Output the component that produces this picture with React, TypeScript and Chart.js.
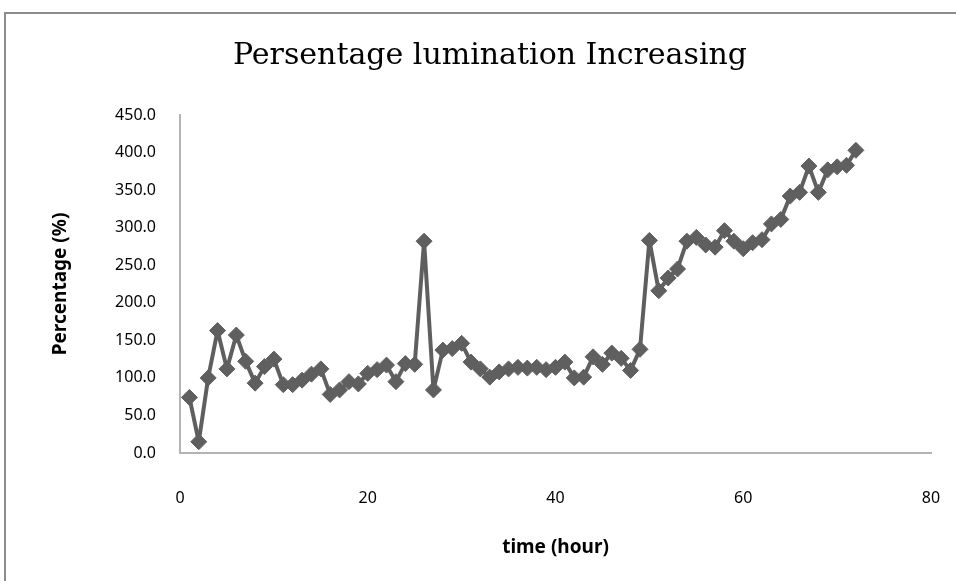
import React, { useEffect, useRef } from "react";
import { Chart, registerables } from "chart.js";

Chart.register(...registerables);

const hours = [
  1, 2, 3, 4, 5, 6, 7, 8, 9, 10, 11, 12, 13, 14, 15, 16, 17, 18, 19, 20, 21, 22, 23, 24,
  25, 26, 27, 28, 29, 30, 31, 32, 33, 34, 35, 36, 37, 38, 39, 40, 41, 42, 43, 44, 45, 46, 47, 48,
  49, 50, 51, 52, 53, 54, 55, 56, 57, 58, 59, 60, 61, 62, 63, 64, 65, 66, 67, 68, 69, 70, 71, 72,
];

const percentage = [
  74, 15, 100, 163, 112, 157, 122, 93, 115, 125, 91, 91, 97, 105, 112, 78, 84, 95, 92, 106, 111, 117, 95, 119,
  118, 282, 84, 137, 139, 146, 121, 112, 101, 108, 112, 114, 113, 114, 111, 114, 121, 100, 101, 128, 118, 133, 126, 110,
  138, 283, 216, 233, 245, 282, 287, 277, 274, 296, 282, 272, 280, 284, 305, 311, 342, 347, 382, 347, 377, 381, 383, 403,
];

const chartTitle = "Persentage lumination Increasing";
const xTitle = "time (hour)";
const yTitle = "Percentage (%)";

export default function App() {
  const ref = useRef<HTMLCanvasElement | null>(null);

  useEffect(() => {
    document.body.style.margin = "0";
    const canvas = ref.current;
    if (!canvas) return;
    const points = hours.map((h, i) => ({ x: h, y: percentage[i] }));
    const chart = new Chart(canvas, {
      type: "line",
      data: {
        datasets: [
          {
            data: points,
            borderColor: "#5f5f5f",
            backgroundColor: "#5f5f5f",
            borderWidth: 4,
            borderJoinStyle: "round",
            pointStyle: "rectRot",
            pointRadius: 8,
            pointBorderWidth: 1,
            pointBorderColor: "#5f5f5f",
            pointBackgroundColor: "#5f5f5f",
            tension: 0,
          },
        ],
      },
      options: {
        animation: false,
        responsive: false,
        maintainAspectRatio: false,
        layout: { padding: { left: 24, right: 0, top: 0, bottom: 0 } },
        plugins: {
          legend: { display: false },
          tooltip: { enabled: false },
          title: {
            display: true,
            text: chartTitle,
            color: "#000",
            font: { family: "DejaVu Serif", size: 30, weight: "normal" },
            padding: { top: 38, bottom: 41 },
          },
        },
        scales: {
          x: {
            type: "linear",
            min: 0,
            max: 80,
            ticks: {
              stepSize: 20,
              color: "#000",
              padding: 36,
              font: { family: "Noto Sans", size: 16 },
            },
            grid: { display: false, drawTicks: false },
            border: { display: true, color: "#b3b3b3", width: 2 },
            title: {
              display: true,
              text: xTitle,
              color: "#000",
              font: { family: "Noto Sans", size: 19, weight: "bold" },
              padding: { top: 0, bottom: 22 },
            },
            afterFit: (scale: any) => {
              scale.height = 128;
              scale.paddingLeft = 0;
              scale.paddingRight = 25;
            },
          },
          y: {
            type: "linear",
            min: 0,
            max: 450,
            ticks: {
              stepSize: 50,
              color: "#000",
              padding: 24,
              font: { family: "Noto Sans", size: 16 },
              callback: (v: any) => Number(v).toFixed(1),
            },
            grid: { display: false, drawTicks: false },
            border: { display: true, color: "#b3b3b3", width: 2 },
            title: {
              display: true,
              text: yTitle,
              color: "#000",
              font: { family: "Noto Sans", size: 19, weight: "bold" },
              padding: { top: 25, bottom: 0 },
            },
            afterFit: (scale: any) => {
              scale.width = 156;
              scale.paddingTop = 0;
              scale.paddingBottom = 0;
            },
          },
        },
      },
    });
    return () => chart.destroy();
  }, []);

  return (
    <div style={{ position: "relative", width: 956, height: 581, background: "#fff", overflow: "hidden" }}>
      <canvas ref={ref} width={956} height={581} style={{ display: "block", width: 956, height: 581 }} />
      <div
        style={{
          position: "absolute",
          left: 4,
          top: 12,
          width: 960,
          height: 600,
          borderTop: "2px solid #8c8c8c",
          borderLeft: "2px solid #8c8c8c",
          pointerEvents: "none",
        }}
      />
    </div>
  );
}
